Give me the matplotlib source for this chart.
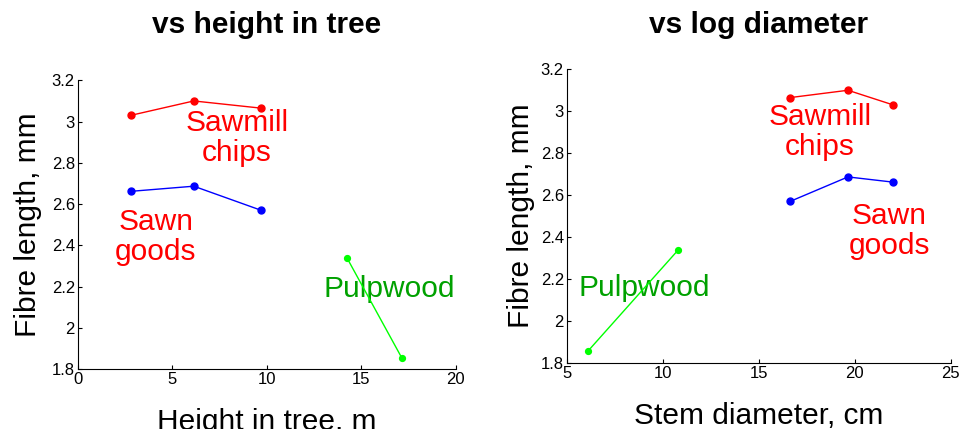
import numpy as np
import matplotlib.pyplot as plt

plt.rcParams['font.family'] = ['Liberation Sans', 'DejaVu Sans']

# Fibre length (mm) per assortment
height_sawn = [2.8, 6.14, 9.71]
fibre_sawn = [2.662, 2.687, 2.570]
height_chips = [2.8, 6.14, 9.71]
fibre_chips = [3.030, 3.100, 3.065]
height_pulp = [14.25, 17.14]
fibre_pulp = [2.338, 1.855]

# Same assortments against stem diameter (cm)
diam_sawn = [22.01, 19.65, 16.63]
diam_chips = [22.01, 19.65, 16.63]
diam_pulp = [10.8, 6.09]

red = (1, 0, 0)
blue = (0, 0, 1)
green = (0, 1, 0)
dark_green = (0, 0.63, 0)
big = 21.5

fig = plt.figure(figsize=(9.6, 4.29), dpi=100)
ax1 = fig.add_axes([0.0809, 0.1392, 0.394, 0.6736])
ax2 = fig.add_axes([0.5903, 0.1538, 0.400, 0.6847])

def style(ax):
    for s in ['top', 'right']:
        ax.spines[s].set_visible(False)
    ax.tick_params(direction='in', length=3, labelsize=12, pad=2)
    ax.set_ylim(1.8, 3.2)
    ax.set_yticks(np.arange(1.8, 3.21, 0.2))
    ax.set_yticklabels(['1.8', '2', '2.2', '2.4', '2.6', '2.8', '3', '3.2'])

def label(ax, x, y, s, color):
    ax.text(x, y, s, color=color, fontsize=big, ha='center', va='center',
            linespacing=1.1, zorder=1)

# vs height in tree
ax1.plot(height_chips, fibre_chips, '-o', color=red, lw=1, ms=5, zorder=3)
ax1.plot(height_sawn, fibre_sawn, '-o', color=blue, lw=1, ms=5, zorder=3)
ax1.plot(height_pulp, fibre_pulp, '-o', color=green, lw=1, ms=4.2, zorder=3)
ax1.set_xlim(0, 20)
ax1.set_xticks([0, 5, 10, 15, 20])
style(ax1)
label(ax1, 8.43, 2.92, 'Sawmill\nchips', red)
label(ax1, 4.13, 2.44, 'Sawn\ngoods', red)
label(ax1, 16.5, 2.19, 'Pulpwood', dark_green)
ax1.set_xlabel('Height in tree, m', fontsize=big, labelpad=15)
ax1.set_ylabel('Fibre length, mm', fontsize=big, labelpad=7)

# vs log diameter
ax2.plot(diam_chips, fibre_chips, '-o', color=red, lw=1, ms=5, zorder=3)
ax2.plot(diam_sawn, fibre_sawn, '-o', color=blue, lw=1, ms=5, zorder=3)
ax2.plot(diam_pulp, fibre_pulp, '-o', color=green, lw=1, ms=4.2, zorder=3)
ax2.set_xlim(5, 25)
ax2.set_xticks([5, 10, 15, 20, 25])
style(ax2)
label(ax2, 18.19, 2.90, 'Sawmill\nchips', red)
label(ax2, 21.79, 2.43, 'Sawn\ngoods', red)
label(ax2, 9.03, 2.156, 'Pulpwood', dark_green)
ax2.set_xlabel('Stem diameter, cm', fontsize=big, labelpad=15)
ax2.set_ylabel('Fibre length, mm', fontsize=big, labelpad=4)

# panel titles share one baseline
fig.text(0.2779, 1 - 33 / 429, 'vs height in tree', fontsize=big, fontweight='bold',
         ha='center', va='baseline')
fig.text(0.7903, 1 - 33 / 429, 'vs log diameter', fontsize=big, fontweight='bold',
         ha='center', va='baseline')

fig.savefig('out.png', dpi=100)
